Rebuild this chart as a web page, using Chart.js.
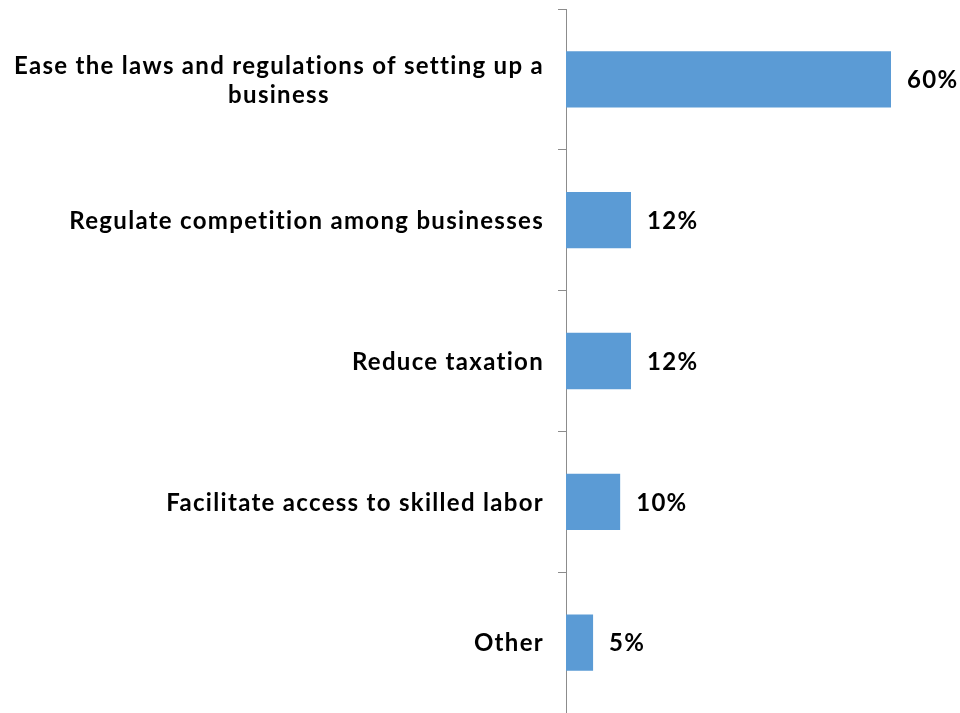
<!DOCTYPE html>
<html>
<head>
<meta charset="utf-8">
<script src="https://cdn.jsdelivr.net/npm/chart.js"></script>
<style>
  html, body { margin: 0; padding: 0; background: #fff; }
  #wrap { width: 960px; height: 713px; }
</style>
</head>
<body>
<div id="wrap"><canvas id="priorityChart" width="960" height="713"></canvas></div>
<script>
// Survey answers, one line array per category label
const categories = [
    ['Ease the laws and regulations of setting up a', 'business'],
    ['Regulate competition among businesses'],
    ['Reduce taxation'],
    ['Facilitate access to skilled labor'],
    ['Other']
];
const shares = [60, 12, 12, 10, 5];
const valueLabels = ['60%', '12%', '12%', '10%', '5%'];

const FONT = 'bold 24px Lato, "Open Sans", sans-serif';
const SPACING = '1.3px';
const LINE_H = 29;

// Category labels: each block is centered on its widest line,
// and the blocks are right-aligned against the axis
const categoryLabels = {
    id: 'categoryLabels',
    afterDraw(chart) {
        const { ctx } = chart;
        const y = chart.scales.y;
        const rightEdge = y.right - 22;
        ctx.save();
        ctx.font = FONT;
        ctx.letterSpacing = SPACING;
        ctx.fillStyle = '#000';
        ctx.textAlign = 'center';
        ctx.textBaseline = 'middle';
        categories.forEach((lines, i) => {
            const widest = Math.max(...lines.map(l => ctx.measureText(l).width));
            const cx = rightEdge - widest / 2;
            const cy = y.getPixelForTick(i);
            const top = cy - (lines.length - 1) * LINE_H / 2;
            lines.forEach((l, j) => ctx.fillText(l, cx, top + j * LINE_H + 1));
        });
        ctx.restore();
    }
};

// Percent text just past the end of each bar
const valueText = {
    id: 'valueText',
    afterDatasetsDraw(chart) {
        const { ctx } = chart;
        const bars = chart.getDatasetMeta(0).data;
        ctx.save();
        ctx.font = FONT;
        ctx.letterSpacing = SPACING;
        ctx.fillStyle = '#000';
        ctx.textAlign = 'left';
        ctx.textBaseline = 'middle';
        bars.forEach((bar, i) => ctx.fillText(valueLabels[i], bar.x + 16, bar.y + 1));
        ctx.restore();
    }
};

new Chart(document.getElementById('priorityChart'), {
    type: 'bar',
    data: {
        labels: categories.map(c => c.join(' ')),
        datasets: [{
            data: shares,
            backgroundColor: '#5B9BD5',
            borderWidth: 0,
            categoryPercentage: 1,
            barPercentage: 0.4
        }]
    },
    options: {
        indexAxis: 'y',
        responsive: false,
        animation: false,
        layout: { padding: { top: 9, right: 4, bottom: 0, left: 0 } },
        scales: {
            x: { display: false, min: 0, max: 72 },
            y: {
                afterFit(scale) { scale.width = 566; },
                grid: {
                    offset: true,
                    drawOnChartArea: false,
                    tickLength: 8,
                    color: '#8c8c8c'
                },
                border: { color: '#8c8c8c', width: 1 },
                ticks: { display: false }
            }
        },
        plugins: {
            legend: { display: false },
            tooltip: { enabled: false }
        }
    },
    plugins: [categoryLabels, valueText]
});
</script>
</body>
</html>
